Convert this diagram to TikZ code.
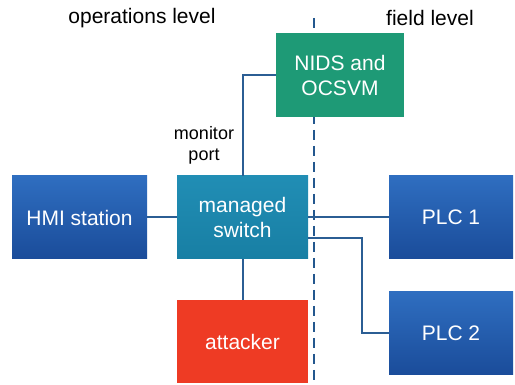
\documentclass[tikz,border=0pt]{standalone}
\usepackage{fontspec}
\setmainfont{Liberation Sans}
\begin{document}
\begin{tikzpicture}[x=1pt,y=-1pt,
  box/.style={draw=none, inner sep=0pt, align=center, text=white,
    font=\fontsize{21}{25}\selectfont},
  bluebox/.style={box, minimum width=135pt, minimum height=83pt,
    top color=plcTop, bottom color=plcBot},
  link/.style={draw=linkc, line width=2pt},
  lbl/.style={font=\fontsize{21}{25}\selectfont, inner sep=0pt}]
\definecolor{plcTop}{HTML}{2F6EC0}
\definecolor{plcBot}{HTML}{1A4C9A}
\definecolor{nidsc}{HTML}{1E9A76}
\definecolor{switchc}{HTML}{1A8AB2}
\definecolor{attc}{HTML}{EE3B24}
\definecolor{linkc}{HTML}{2B5E94}
\definecolor{dashc}{HTML}{23578E}
\useasboundingbox (0,0) rectangle (515,385);
\fill[white] (0,0) rectangle (515,385);
% dashed boundary
\coordinate (dtop) at (314,18);
\coordinate (dbot) at (314,385);
\draw[dashc, line width=2.4pt, dash pattern=on 10pt off 6pt] (dtop) -- (dbot);
% level labels
\node[lbl] (ops) at (142,18) {operations level};
\node[lbl] (field) at (430,18) {field level};
\coordinate (bend) at (362,333.5);
% boxes
\node[box, minimum width=128pt, minimum height=84pt, fill=nidsc] (nids) at (340,75) {NIDS and\\OCSVM};
\node[box, minimum width=131pt, minimum height=83pt, top color=switchc!97!white, bottom color=switchc!92!black] (sw) at (242.5,217.5) {managed\\switch};
\node[box, minimum width=131pt, minimum height=83pt, fill=attc] (att) at (242.5,341.5) {attacker};
\node[bluebox] (hmi) at (79.5,217.5) {HMI station};
\node[bluebox, minimum width=124pt] (plc1) at (451,217.5) {PLC 1};
\node[bluebox, minimum width=124pt] (plc2) at (451,333.5) {PLC 2};
\node[font=\fontsize{18}{21}\selectfont, align=center, inner sep=0pt] (mon) at (204,145) {monitor\\port};
% connectors
\draw[link] (sw.north) |- (nids.west);
\draw[link] (hmi.east) -- (sw.west);
\draw[link] (sw.south) -- (att.north);
\draw[link] (sw.east) -- (plc1.west);
\draw[link] ([yshift=-20.5pt]sw.east) -| (bend) -- (plc2.west);
\end{tikzpicture}
\end{document}
